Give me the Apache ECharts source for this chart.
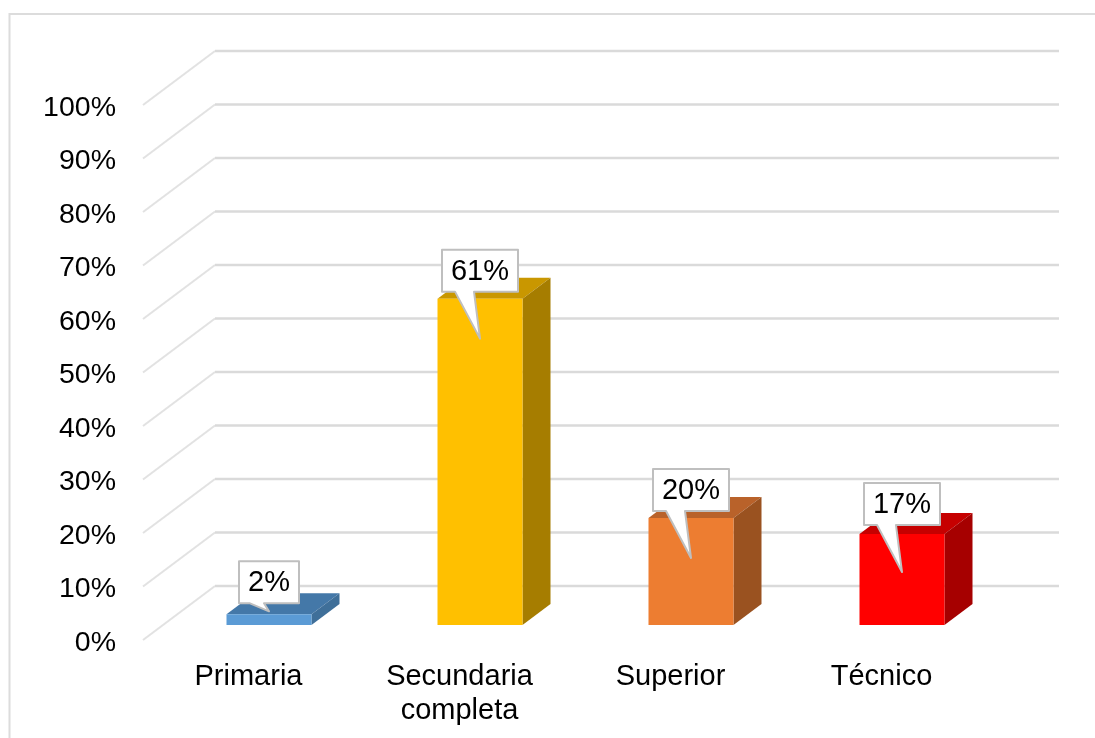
<!DOCTYPE html>
<html>
<head>
<meta charset="utf-8">
<style>
  html, body { margin: 0; padding: 0; background: #fff; }
  #chart { width: 1095px; height: 738px; }
</style>
<script src="https://cdn.jsdelivr.net/npm/echarts@6/dist/echarts.min.js"></script>
</head>
<body>
<div id="chart"></div>
<script>
// datos
const categories = ['Primaria', 'Secundaria\ncompleta', 'Superior', 'Técnico']
const values = [2, 61, 20, 17]
const ticks = [0, 10, 20, 30, 40, 50, 60, 70, 80, 90, 100]

// colores de cada barra: frente, tapa, lateral
const frontColors = ['#5b9bd5', '#ffc000', '#ed7d31', '#ff0000']
const topColors = ['#4478a8', '#c99700', '#b9622a', '#c60000']
const sideColors = ['#3f6f99', '#a67d00', '#9a5220', '#a60000']

// globos de las etiquetas
const tipDrop = [-3, 40, 40, 38]
const tailHeight = [8, 47, 47, 47]
const boxHalf = [30, 38, 38, 38]

const fontName = '"Liberation Sans", Arial, sans-serif'
const gridLeft = 143
const gridTop = 105
const gridWidth = 844
const gridHeight = 535
const wallX = 72
const wallY = -54
const floorX = 20.5
const floorY = -15
const barWidth = 85
const depthX = 28
const depthY = -21
const boxHeight = 42

function renderWall(params, api) {
  const p = api.coord([0, api.value(1)])
  return {
    type: 'group',
    children: [
      {
        type: 'line',
        shape: { x1: gridLeft, y1: p[1], x2: gridLeft + wallX, y2: p[1] + wallY },
        style: { stroke: '#e2e2e2', lineWidth: 2 }
      },
      {
        type: 'line',
        shape: { x1: gridLeft + wallX, y1: p[1] + wallY, x2: gridLeft + gridWidth + wallX, y2: p[1] + wallY },
        style: { stroke: '#dadada', lineWidth: 2.5 }
      }
    ]
  }
}

function renderBar(params, api) {
  const i = params.dataIndex
  const base = api.coord([i, 0])
  const top = api.coord([i, api.value(1)])
  const x0 = base[0] + floorX - barWidth / 2
  const x1 = x0 + barWidth
  const y0 = base[1] + floorY
  const y1 = top[1] + floorY
  return {
    type: 'group',
    children: [
      {
        type: 'polygon',
        shape: { points: [[x0, y1], [x1, y1], [x1 + depthX, y1 + depthY], [x0 + depthX, y1 + depthY]] },
        style: { fill: topColors[i] }
      },
      {
        type: 'polygon',
        shape: { points: [[x1, y0], [x1 + depthX, y0 + depthY], [x1 + depthX, y1 + depthY], [x1, y1]] },
        style: { fill: sideColors[i] }
      },
      {
        type: 'rect',
        shape: { x: x0, y: y1, width: barWidth, height: y0 - y1 },
        style: { fill: frontColors[i] }
      }
    ]
  }
}

function renderCallout(params, api) {
  const i = params.dataIndex
  const top = api.coord([i, api.value(1)])
  const tipX = top[0] + floorX
  const tipY = top[1] + floorY + tipDrop[i]
  const boxBottom = tipY - tailHeight[i]
  const boxTop = boxBottom - boxHeight
  const half = boxHalf[i]
  const tailLeft = i === 0 ? tipX - 19 : tipX - 25
  const tailRight = i === 0 ? tipX - 5 : tipX - 6
  return {
    type: 'group',
    children: [
      {
        type: 'polygon',
        shape: {
          points: [
            [tipX - half, boxTop],
            [tipX + half, boxTop],
            [tipX + half, boxBottom],
            [tailRight, boxBottom],
            [tipX, tipY],
            [tailLeft, boxBottom],
            [tipX - half, boxBottom]
          ]
        },
        style: { fill: '#fff', stroke: '#bfbfbf', lineWidth: 2, lineJoin: 'round' }
      },
      {
        type: 'text',
        style: {
          x: tipX,
          y: (boxTop + boxBottom) / 2 + 1,
          text: api.value(1) + '%',
          fill: '#000',
          font: '29px ' + fontName,
          textAlign: 'center',
          textVerticalAlign: 'middle'
        }
      }
    ]
  }
}

const chart = echarts.init(document.getElementById('chart'))
chart.setOption({
  animation: false,
  backgroundColor: '#fff',
  graphic: [
    {
      type: 'polyline',
      shape: { points: [[9.5, 738], [9.5, 14], [1095, 14]] },
      style: { stroke: '#dcdcdc', lineWidth: 2, fill: null },
      silent: true
    }
  ],
  grid: { left: gridLeft, top: gridTop, width: gridWidth, height: gridHeight },
  xAxis: {
    type: 'category',
    data: categories,
    axisLine: { show: false },
    axisTick: { show: false },
    axisLabel: {
      color: '#000',
      fontFamily: fontName,
      fontSize: 29,
      lineHeight: 34,
      margin: 20
    }
  },
  yAxis: {
    type: 'value',
    min: 0,
    max: 100,
    interval: 10,
    axisLine: { show: false },
    axisTick: { show: false },
    splitLine: { show: false },
    axisLabel: {
      formatter: '{value}%',
      color: '#000',
      fontFamily: fontName,
      fontSize: 28.5,
      margin: 27,
      verticalAlign: 'top',
      lineHeight: 6
    }
  },
  series: [
    {
      type: 'custom',
      z: 1,
      clip: false,
      silent: true,
      renderItem: renderWall,
      data: ticks.map(t => [0, t])
    },
    {
      type: 'custom',
      z: 2,
      clip: false,
      silent: true,
      renderItem: renderBar,
      data: values.map((v, i) => [i, v])
    },
    {
      type: 'custom',
      z: 3,
      clip: false,
      silent: true,
      renderItem: renderCallout,
      data: values.map((v, i) => [i, v])
    }
  ]
})
</script>
</body>
</html>
